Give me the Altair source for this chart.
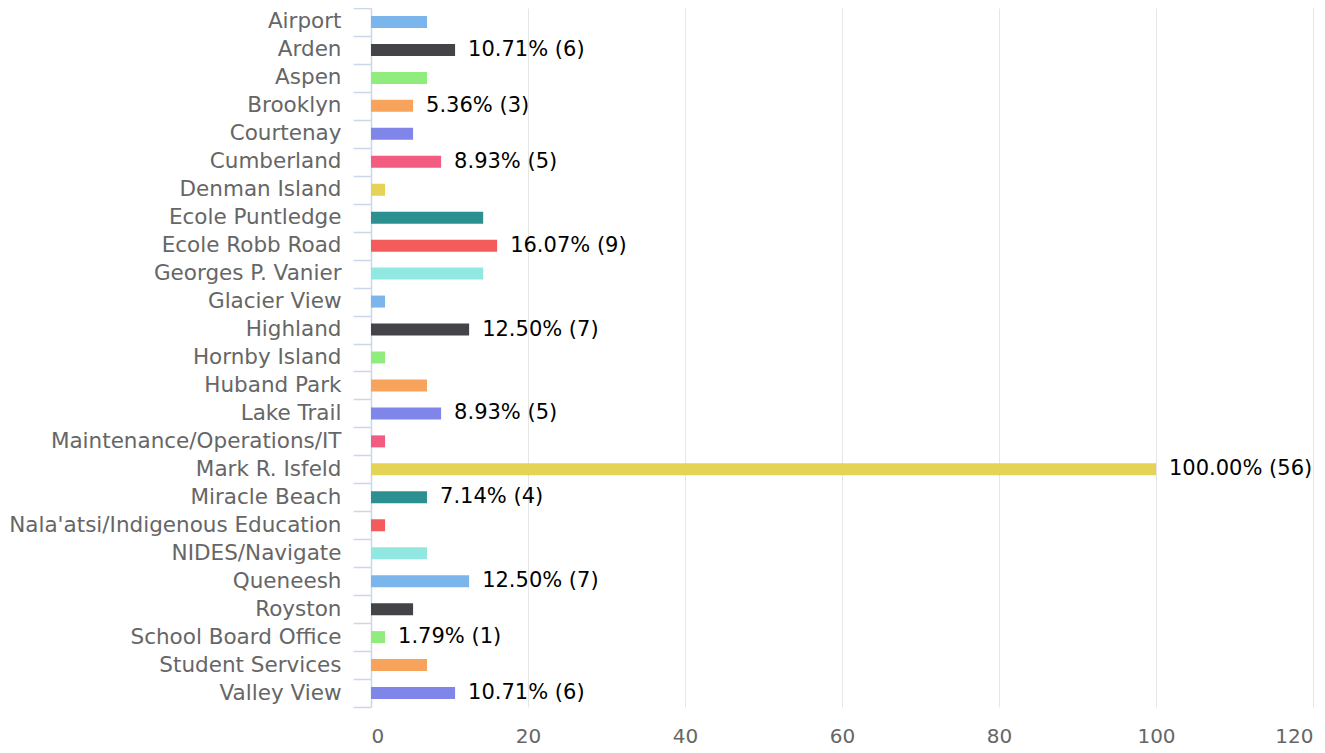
import altair as alt
import pandas as pd

categories = ["Airport", "Arden", "Aspen", "Brooklyn", "Courtenay", "Cumberland",
              "Denman Island", "Ecole Puntledge", "Ecole Robb Road", "Georges P. Vanier",
              "Glacier View", "Highland", "Hornby Island", "Huband Park", "Lake Trail",
              "Maintenance/Operations/IT", "Mark R. Isfeld", "Miracle Beach",
              "Nala'atsi/Indigenous Education", "NIDES/Navigate", "Queneesh", "Royston",
              "School Board Office", "Student Services", "Valley View"]
counts = [4, 6, 4, 3, 3, 5, 1, 8, 9, 8, 1, 7, 1, 4, 5, 1, 56, 4, 1, 4, 7, 3, 1, 4, 6]
percents = [7.14, 10.71, 7.14, 5.36, 5.36, 8.93, 1.79, 14.29, 16.07, 14.29, 1.79, 12.50,
            1.79, 7.14, 8.93, 1.79, 100.00, 7.14, 1.79, 7.14, 12.50, 5.36, 1.79, 7.14, 10.71]
show_label = [False, True, False, True, False, True, False, False, True, False, False, True,
              False, False, True, False, True, True, False, False, True, False, True, False, True]
palette = ["#7cb5ec", "#434348", "#90ed7d", "#f7a35c", "#8085e9",
           "#f15c80", "#e4d354", "#2b908f", "#f45b5b", "#91e8e1"]

df = pd.DataFrame({
    "category": categories,
    "pct": percents,
    "count": counts,
    "color": [palette[i % len(palette)] for i in range(len(categories))],
    "label": [f"{p:.2f}% ({c})" if s else "" for p, c, s in zip(percents, counts, show_label)],
})

FONT = "DejaVu Sans"

y = alt.Y("category:N", sort=categories, title=None,
          scale=alt.Scale(paddingInner=0, paddingOuter=0),
          axis=alt.Axis(labelFontSize=21.5, labelColor="#666666", labelFont=FONT,
                        domainColor="#ccd6eb", domainWidth=1.5, tickColor="#ccd6eb",
                        tickWidth=1.5, tickSize=18,
                        tickBand="extent", labelPadding=12, grid=False, labelLimit=400))
x = alt.X("pct:Q", title=None,
          scale=alt.Scale(domain=[0, 120], nice=False),
          axis=alt.Axis(values=[0, 20, 40, 60, 80, 100, 120], labelFontSize=20,
                        labelColor="#666666", labelFont=FONT, domain=False, ticks=False,
                        gridColor="#e6e6e6", gridWidth=1, labelPadding=19))

bars = alt.Chart(df).mark_bar(size=12).encode(
    y=y, x=x, color=alt.Color("color:N", scale=None))

text = alt.Chart(df).mark_text(align="left", baseline="middle", dx=13, fontSize=21,
                               font=FONT, color="#000000").encode(
    y=alt.Y("category:N", sort=categories), x="pct:Q", text="label:N")

chart = (bars + text).properties(
    width=942, height=699,
    background="white",
    autosize=alt.AutoSizeParams(type="none"),
    padding={"left": 363, "top": 0, "right": 4, "bottom": 42},
).configure_view(stroke=None)

chart.save("out.html", embed_options={"renderer": "svg", "actions": False})
